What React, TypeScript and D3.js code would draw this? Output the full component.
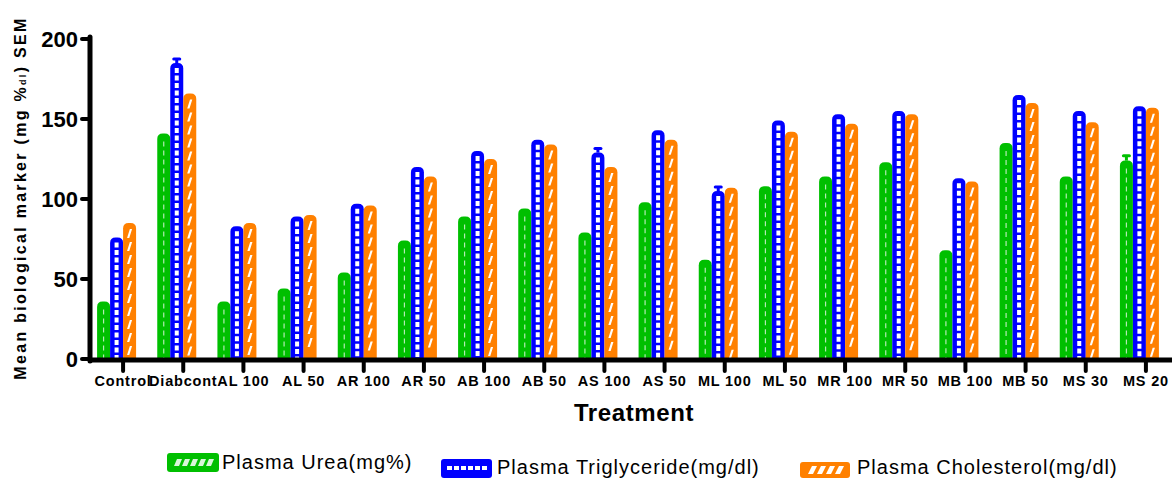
import React from "react";
import * as d3 from "d3";

const categories = ["Control", "Diabcont", "AL 100", "AL 50", "AR 100", "AR 50", "AB 100", "AB 50", "AS 100", "AS 50", "ML 100", "ML 50", "MR 100", "MR 50", "MB 100", "MB 50", "MS 30", "MS 20"];
const urea = [36, 141, 36, 44, 54, 74, 89, 94, 79, 98, 62, 108, 114, 123, 68, 135, 114, 124];
const triglyceride = [76, 185, 83, 89, 97, 120, 130, 137, 129, 143, 105, 149, 153, 155, 113, 165, 155, 158];
const cholesterol = [85, 166, 85, 90, 96, 114, 125, 134, 120, 137, 107, 142, 147, 153, 111, 160, 148, 157];
const ureaSem = [0, 0, 0, 0, 0, 0, 0, 0, 0, 0, 0, 0, 0, 0, 0, 0, 0, 3];
const trigSem = [0, 2.5, 0, 0, 0, 0, 0, 0, 2.5, 0, 2.5, 0, 0, 0, 0, 0, 0, 0];
const cholSem = [0, 0, 0, 0, 0, 0, 0, 0, 0, 0, 0, 0, 0, 0, 0, 0, 0, 0];
const yTicks = [0, 50, 100, 150, 200];
const seriesNames = ["Plasma Urea(mg%)", "Plasma Triglyceride(mg/dl)", "Plasma Cholesterol(mg/dl)"];

const GREEN = "#00bf00";
const BLUE = "#0000ff";
const ORANGE = "#ff8000";
const FONT = "'Liberation Sans', Arial, sans-serif";

const x = d3.scaleBand<string>().domain(categories).range([93, 1176]).padding(0);
const y = d3.scaleLinear().domain([0, 200]).range([359, 39]);
const BW = 13;

function barPath(x0: number, x1: number, yt: number, yb: number) {
  const r = 5.5;
  return `M${x0},${yb} L${x0},${yt + r} Q${x0},${yt} ${x0 + r},${yt} L${x1 - r},${yt} Q${x1},${yt} ${x1},${yt + r} L${x1},${yb} Z`;
}

function Bar({ x0, v, sem, color, kind }: { x0: number; v: number; sem: number; color: string; kind: string }) {
  const yt = y(v);
  const yb = y(0);
  const cx = x0 + BW / 2;
  const pattern: React.ReactNode[] = [];
  if (kind === "blue") {
    pattern.push(
      <line key="p" x1={cx} x2={cx} y1={yt + 5} y2={yb - 1} stroke="#fff" strokeWidth={4} strokeDasharray="5 2.5" />
    );
  } else if (kind === "orange") {
    for (let yy = yt + 6; yy + 9 < yb; yy += 13) {
      pattern.push(
        <polygon key={yy} points={`${cx - 2.5},${yy + 9} ${cx - 0.3},${yy + 9} ${cx + 2.5},${yy} ${cx + 0.3},${yy}`} fill="#fff" />
      );
    }
  } else {
    pattern.push(
      <line key="p" x1={cx} x2={cx} y1={yt + 8} y2={yb - 1} stroke="#fff" strokeWidth={1.2} strokeDasharray="5 4" opacity={0.7} />
    );
  }
  const ye = y(v + sem);
  return (
    <g>
      {sem > 0 && (
        <g>
          <line x1={cx} x2={cx} y1={yt} y2={ye} stroke={color} strokeWidth={3} />
          <line x1={cx - 3} x2={cx + 3} y1={ye} y2={ye} stroke={color} strokeWidth={3} strokeLinecap="round" />
        </g>
      )}
      <path d={barPath(x0, x0 + BW, yt, yb)} fill={color} />
      {pattern}
    </g>
  );
}

export default function App() {
  return (
    <svg width={1172} height={479} style={{ position: "absolute", left: 0, top: 0, background: "#fff" }} fontFamily={FONT}>
      {categories.map((c, i) => {
        const c0 = (x(c) as number) + x.bandwidth() / 2;
        return (
          <g key={c}>
            <Bar x0={c0 - 2 * BW} v={urea[i]} sem={ureaSem[i]} color={GREEN} kind="green" />
            <Bar x0={c0 - BW} v={triglyceride[i]} sem={trigSem[i]} color={BLUE} kind="blue" />
            <Bar x0={c0} v={cholesterol[i]} sem={cholSem[i]} color={ORANGE} kind="orange" />
          </g>
        );
      })}
      {/* Y axis */}
      <line x1={90} x2={90} y1={y(200) - 2} y2={y(0) + 2} stroke="#000" strokeWidth={5} strokeLinecap="round" />
      {yTicks.map((t) => (
        <g key={t}>
          <line x1={82} x2={90} y1={y(t)} y2={y(t)} stroke="#000" strokeWidth={4} strokeLinecap="round" />
          <text x={78} y={y(t) + 8} textAnchor="end" fontSize={22} fontWeight="bold">{t}</text>
        </g>
      ))}
      {/* X axis */}
      <line x1={88} x2={1172} y1={360} y2={360} stroke="#000" strokeWidth={5} />
      {categories.map((c) => {
        const cx = (x(c) as number) + x.bandwidth() / 2;
        return (
          <g key={c}>
            <line x1={cx} x2={cx} y1={360} y2={371} stroke="#000" strokeWidth={4} strokeLinecap="round" />
            <text x={cx} y={386} textAnchor="middle" fontSize={14.5} fontWeight="bold" letterSpacing={0.8}>{c}</text>
          </g>
        );
      })}
      <text x={634} y={421} textAnchor="middle" fontSize={24} fontWeight="bold" letterSpacing={0.6}>Treatment</text>
      <text transform="translate(26,198) rotate(-90)" textAnchor="middle" fontSize={16} fontWeight="bold" letterSpacing={2.3}>
        Mean biological marker (mg %<tspan fontSize={9}>dl</tspan>) SEM
      </text>
      {/* Legend */}
      <g>
        <rect x={167} y={453} width={52} height={19} rx={3} fill={GREEN} />
        {[0, 1, 2, 3, 4].map((k) => (
          <polygon key={k} points={`${174 + k * 8},${466} ${179 + k * 8},${466} ${182 + k * 8},${459} ${177 + k * 8},${459}`} fill="#fff" opacity={0.85} />
        ))}
        <text x={222} y={469} fontSize={20} letterSpacing={1}>{seriesNames[0]}</text>
      </g>
      <g>
        <rect x={441} y={459} width={51} height={19} rx={3} fill={BLUE} />
        {[0, 1, 2, 3, 4, 5].map((k) => (
          <rect key={k} x={447 + k * 7} y={466} width={5} height={4} fill="#fff" />
        ))}
        <text x={497} y={474} fontSize={20} letterSpacing={1}>{seriesNames[1]}</text>
      </g>
      <g>
        <rect x={800} y={462} width={50} height={16} rx={3} fill={ORANGE} />
        {[0, 1, 2, 3].map((k) => (
          <polygon key={k} points={`${808 + k * 9},${474} ${813 + k * 9},${474} ${817 + k * 9},${466} ${812 + k * 9},${466}`} fill="#fff" />
        ))}
        <text x={857} y={474} fontSize={20} letterSpacing={1}>{seriesNames[2]}</text>
      </g>
    </svg>
  );
}
